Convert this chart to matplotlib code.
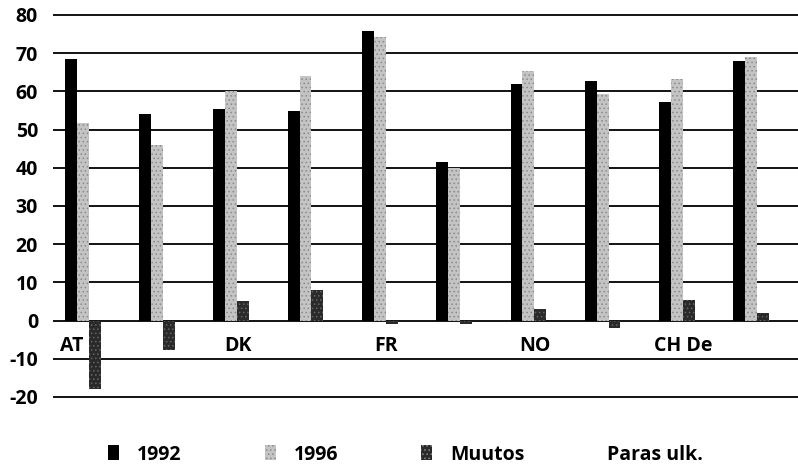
import matplotlib.pyplot as plt
import matplotlib.patches as mpatches
import numpy as np

# --- datos ---
grupos = list(range(10))
etiquetas = ["AT", "", "DK", "", "FR", "", "NO", "", "CH De", ""]
v1992 = [68.6, 54.2, 55.5, 54.8, 75.9, 41.6, 62.0, 62.8, 57.3, 68.0]
v1996 = [51.8, 46.0, 60.2, 63.9, 74.3, 40.0, 65.2, 59.2, 63.3, 69.0]
muutos = [-18.0, -7.6, 5.2, 8.1, -1.0, -1.0, 3.0, -2.0, 5.5, 2.0]
series = ["1992", "1996", "Muutos", "Paras ulk."]
colores = ["#000000", "#c4c4c4", "#2a2a2a", "#ffffff"]
tramas = [None, "....", "....", None]
yticks = [-20, -10, 0, 10, 20, 30, 40, 50, 60, 70, 80]

plt.rcParams['font.family'] = ['Open Sans', 'DejaVu Sans']
plt.rcParams['font.weight'] = 'bold'
plt.rcParams['hatch.linewidth'] = 0.6

fig = plt.figure(figsize=(7.98, 4.66), dpi=100)
ax = fig.add_axes([53/798, 0.144, 1 - 53/798, 0.972 - 0.144])

x = np.array(grupos, dtype=float)
w = 0.16
ax.bar(x - w, v1992, width=w, color=colores[0], zorder=3)
ax.bar(x, v1996, width=w, facecolor=colores[1], edgecolor="#8a8a8a",
       hatch=tramas[1], lw=0, zorder=3)
ax.bar(x + w, muutos, width=w, facecolor=colores[2], edgecolor="#666666",
       hatch=tramas[2], lw=0, zorder=3)

ax.set_xlim(-0.40, 9.63)
ax.set_ylim(-20.5, 80.5)
ax.set_yticks(yticks)
ax.set_yticklabels([str(t) for t in yticks], fontsize=14, fontweight='bold')
ax.tick_params(axis='y', length=0, pad=10.8)
ax.set_xticks([])
for s in ax.spines.values():
    s.set_visible(False)
for t in yticks:
    ax.axhline(t, color='black', lw=1.3, zorder=1)

# etiquetas de categorias dentro del area (AT queda a la izquierda de su barra)
for xi, lab in zip(x, etiquetas):
    if lab:
        dx = -0.15 if lab == "AT" else 0.09
        ax.text(xi + dx, -6.6, lab, ha='center', va='center', fontsize=14, fontweight='bold')

# leyenda manual abajo
x0 = 108 / 798
paso = 156.7 / 798
for i, (nombre, c) in enumerate(zip(series, colores)):
    xm = x0 + i * paso
    fig.patches.append(mpatches.Rectangle((xm, 1 - 460/466), 11/798, 15/466,
                                          transform=fig.transFigure, facecolor=c,
                                          edgecolor="#8a8a8a" if tramas[i] else c,
                                          hatch=tramas[i], lw=0, figure=fig))
    fig.text(xm + 29/798, 1 - 455/466, nombre, ha='left', va='center',
             fontsize=14, fontweight='bold')

fig.savefig("out.png", dpi=100)
